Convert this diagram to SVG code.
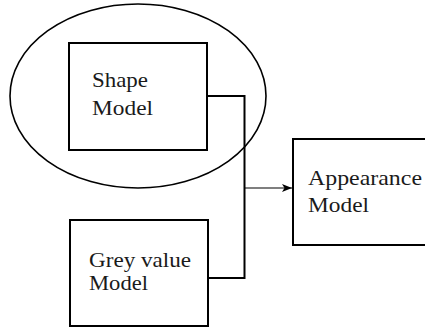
<svg xmlns="http://www.w3.org/2000/svg" width="425" height="327" viewBox="0 0 425 327">
  <defs>
    <marker id="arrow" viewBox="0 0 10 8" refX="10" refY="4" markerWidth="10" markerHeight="8" markerUnits="userSpaceOnUse" orient="auto">
      <path d="M0,0 L10,4 L0,8 L2.5,4 Z" fill="#000"/>
    </marker>
  </defs>
  <style>
    .box { fill: #fff; stroke: #000; stroke-width: 2; }
    .label { font-family: "Liberation Serif", "Times New Roman", serif; font-size: 22px; fill: #1a1a1a; }
    .wire { fill: none; stroke: #000; stroke-width: 2; }
    .feed { fill: none; stroke: #000; stroke-width: 1.2; }
    .group { fill: none; stroke: #000; stroke-width: 1.6; }
  </style>
  <rect width="425" height="327" fill="#fff"/>

  <g id="shape-group">
    <ellipse class="group" cx="138" cy="96" rx="128" ry="92"/>
  </g>

  <g id="shape-model">
    <rect class="box" x="69" y="43" width="138" height="107"/>
    <text class="label" x="92" y="86.5" textLength="56" lengthAdjust="spacingAndGlyphs">Shape</text>
    <text class="label" x="92" y="115" textLength="61" lengthAdjust="spacingAndGlyphs">Model</text>
  </g>

  <g id="grey-value-model">
    <rect class="box" x="70" y="220" width="138" height="106"/>
    <text class="label" x="89" y="266.5" textLength="102" lengthAdjust="spacingAndGlyphs">Grey value</text>
    <text class="label" x="89" y="290" textLength="59" lengthAdjust="spacingAndGlyphs">Model</text>
  </g>

  <g id="appearance-model">
    <rect class="box" x="293" y="139" width="140" height="106"/>
    <text class="label" x="308" y="185" textLength="114" lengthAdjust="spacingAndGlyphs">Appearance</text>
    <text class="label" x="308" y="212" textLength="61" lengthAdjust="spacingAndGlyphs">Model</text>
  </g>

  <g id="connectors">
    <polyline class="wire" points="207,96 244.5,96 244.5,278 208,278"/>
    <line class="feed" x1="244.5" y1="188" x2="292" y2="188" marker-end="url(#arrow)"/>
  </g>
</svg>
